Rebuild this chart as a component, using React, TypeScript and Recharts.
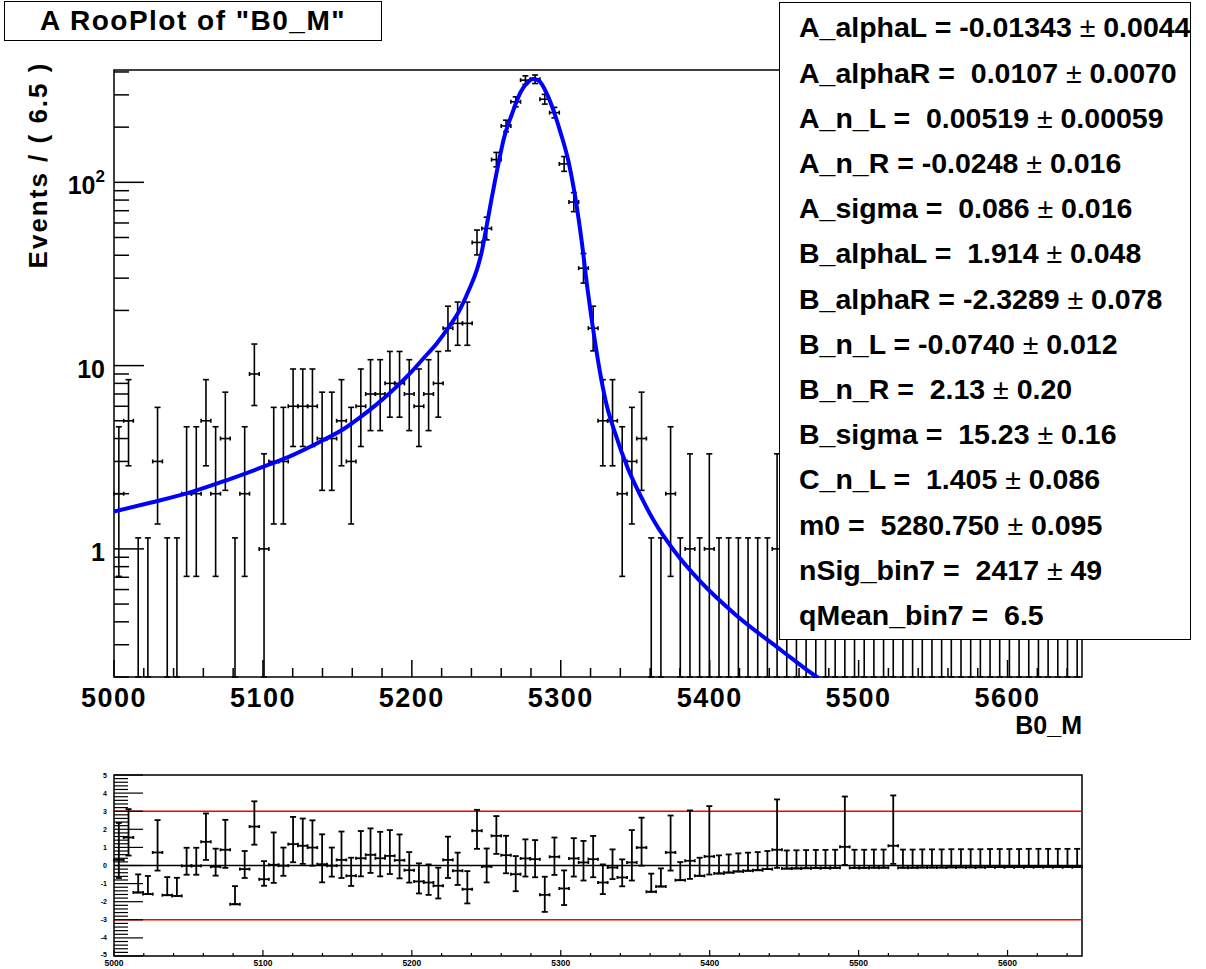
import React from "react";
import {
  ComposedChart,
  Scatter,
  Line,
  XAxis,
  YAxis,
  ErrorBar,
  ReferenceLine,
  ReferenceArea,
} from "recharts";

const FONT = '"Liberation Sans", Arial, Helvetica, sans-serif';

// B0_M binning: 100 bins of 6.5 from 5000
const binStart = 5000;
const binWidth = 6.5;

// events per bin
const counts = [
  2, 5, 0, 0, 3, 0, 0, 2, 2, 5,
  2, 4, 0, 2, 9, 1, 3, 3, 6, 6,
  6, 4, 4, 5, 3, 6, 7, 7, 8, 8,
  7, 6, 7, 8, 16, 17, 17, 47, 56, 133,
  203, 275, 361, 365, 284, 240, 126, 78, 34, 16,
  5, 5, 2, 3, 4, 0, 0, 2, 0, 1,
  0, 1, 0, 0, 0, 0, 0, 0, 1, 0,
  0, 0, 0, 0, 0, 1, 0, 0, 0, 0,
  1, 0, 0, 0, 0, 0, 0, 0, 0, 0,
  0, 0, 0, 0, 0, 0, 0, 0, 0, 0,
];

// pull per bin (lower pad)
const pulls = [
  0.31, 1.55, -1.49, -1.58, 0.72, -1.64, -1.68, -0.02, -0.02, 1.31,
  -0.07, 0.87, -2.14, -0.2, 2.15, -0.76, 0.04, -0.01, 1.18, 1.09,
  0.99, 0.07, -0.01, 0.31, -0.57, 0.4, 0.59, 0.4, 0.53, 0.29,
  -0.26, -0.88, -0.94, -1.12, 0.31, -0.29, -1.31, 1.92, -0.06, 1.64,
  0.57, -0.48, 0.39, 0.35, -1.62, 0.48, -1.27, 0.39, 0.17, 0.35,
  -0.94, -0.11, -0.66, 0.17, 0.99, -1.45, -1.16, 0.72, -0.81, 0.26,
  -0.57, 0.5, -0.44, -0.39, -0.33, -0.29, -0.26, -0.2, 0.87, -0.17,
  -0.16, -0.15, -0.14, -0.14, -0.13, 1.03, -0.13, -0.13, -0.12, -0.12,
  1.09, -0.12, -0.12, -0.11, -0.11, -0.11, -0.1, -0.1, -0.1, -0.1,
  -0.09, -0.09, -0.09, -0.09, -0.08, -0.08, -0.08, -0.08, -0.08, -0.08,
];

// fitted pdf
const fitMass = [
  5000, 5025, 5050, 5075, 5100, 5120, 5140, 5155, 5165, 5178,
  5190, 5200, 5208, 5217, 5225, 5232, 5238, 5244, 5247, 5249,
  5253, 5258, 5262, 5267, 5273, 5278, 5281, 5285, 5291, 5296,
  5300, 5305, 5309, 5314, 5318, 5323, 5327, 5331, 5336, 5345,
  5355, 5363, 5376, 5394, 5417, 5448, 5472, 5500,
];
const fitEvents = [
  1.6, 1.79, 2.02, 2.36, 2.8, 3.25, 3.9, 4.55, 5.2, 6.3,
  7.7, 9.3, 11.0, 13.3, 16.3, 20, 25.5, 34, 42, 51,
  77, 125, 176, 233, 310, 352, 366, 360, 300, 235,
  185, 132, 90, 48, 26, 13.5, 8.6, 6.0, 4.4, 2.75,
  1.85, 1.4, 0.98, 0.66, 0.44, 0.28, 0.2, 0.15,
];

const massLabels = [5000, 5100, 5200, 5300, 5400, 5500, 5600];
const countLabels = [1, 10, 100];

const paramNames = [
  "A_alphaL", "A_alphaR", "A_n_L", "A_n_R", "A_sigma", "B_alphaL", "B_alphaR",
  "B_n_L", "B_n_R", "B_sigma", "C_n_L", "m0", "nSig_bin7", "qMean_bin7",
];
const paramValues = [
  "-0.01343", " 0.0107", " 0.00519", "-0.0248", " 0.086", " 1.914", "-2.3289",
  "-0.0740", " 2.13", " 15.23", " 1.405", " 5280.750", " 2417", " 6.5",
];
const paramErrors = [
  "0.0044", "0.0070", "0.00059", "0.016", "0.016", "0.048", "0.078",
  "0.012", "0.20", "0.16", "0.086", "0.095", "49", "",
];

// 68% poisson intervals (low, high) for small counts
const poissonLo = [0, 0.827, 1.292, 1.633, 1.914, 2.16, 2.38, 2.581, 2.768, 2.943, 3.108];
const poissonHi = [1.148, 2.3, 2.638, 2.918, 3.163, 3.382, 3.583, 3.77, 3.944, 4.11, 4.266];
function poisson(n: number): [number, number] {
  if (n < poissonLo.length) return [poissonLo[n], poissonHi[n]];
  return [Math.sqrt(n - 0.25), 1 + Math.sqrt(n + 0.75)];
}

const yMin = 0.2;
const yMax = 410;

const histRows = counts.map((n, i) => {
  const [lo, hi] = poisson(n);
  const x = binStart + binWidth * (i + 0.5);
  // error bars stop at the frame bottom; empty bins only show the upper error
  if (n === 0) return { x, y: yMin, ey: [0, hi - yMin], ex: 0 };
  return { x, y: n, ey: [Math.min(lo, n - yMin), hi], ex: binWidth / 2 };
});

const pullRows = pulls.map((p, i) => {
  const [lo, hi] = poisson(counts[i]);
  const ey = p > 0 ? [1, hi / lo] : [lo / hi, 1];
  return { x: binStart + binWidth * (i + 0.5), y: p, ey, ex: binWidth / 2 };
});

const fitRows = fitMass.map((m, i) => ({ x: m, y: fitEvents[i] }));

const massTicks: number[] = [];
for (let m = 5000; m < 5650; m += 20) massTicks.push(m);
const countTicks: number[] = [];
[0.1, 1, 10, 100].forEach((d) => {
  for (let k = 1; k <= 9; k++) {
    const v = Number((d * k).toPrecision(2));
    if (v >= yMin && v <= yMax) countTicks.push(v);
  }
});
const pullTicks: number[] = [];
for (let k = -25; k <= 25; k++) pullTicks.push(k / 5);

const Empty = () => <g />;

const MainXTick = (props: any) => {
  const { x, y, payload } = props;
  const v = payload.value;
  const base = y - 10;
  const major = massLabels.includes(v);
  return (
    <g>
      <line x1={x} x2={x} y1={base} y2={base - (major ? 17 : 9)} stroke="#000" strokeWidth={1.5} />
      {major && (
        <text
          x={x}
          y={base + 30}
          textAnchor="middle"
          fontFamily={FONT}
          fontWeight="bold"
          fontSize={27}
          letterSpacing={1.5}
          fill="#000"
        >
          {v}
        </text>
      )}
    </g>
  );
};

const MainYTick = (props: any) => {
  const { x, y, payload } = props;
  const v = payload.value;
  const left = x + 10;
  const major = countLabels.includes(v);
  return (
    <g>
      <line x1={left} x2={left + (major ? 30 : 15)} y1={y} y2={y} stroke="#000" strokeWidth={1.5} />
      {major && (
        <text x={left - 9} y={y + 12} textAnchor="end" fontFamily={FONT} fontWeight="bold" fontSize={25} fill="#000">
          {v === 100 ? (
            <>
              <tspan>10</tspan>
              <tspan dy={-12} fontSize={17}>2</tspan>
            </>
          ) : (
            v
          )}
        </text>
      )}
    </g>
  );
};

const PullXTick = (props: any) => {
  const { x, y, payload } = props;
  const v = payload.value;
  const base = y - 3;
  const major = massLabels.includes(v);
  return (
    <g>
      <line x1={x} x2={x} y1={base} y2={base - (major ? 6 : 3)} stroke="#000" strokeWidth={1.2} />
      {major && (
        <text x={x} y={base + 10} textAnchor="middle" fontFamily={FONT} fontWeight="bold" fontSize={8.5} fill="#000">
          {v}
        </text>
      )}
    </g>
  );
};

const PullYTick = (props: any) => {
  const { x, y, payload } = props;
  const v = payload.value;
  const left = x + 6;
  const major = Number.isInteger(v);
  return (
    <g>
      <line x1={left} x2={left + (major ? 29 : 14)} y1={y} y2={y} stroke="#000" strokeWidth={1.2} />
      {major && (
        <text
          x={left - 7}
          y={v === -5 ? y + 1 : y + 2.5}
          textAnchor="end"
          fontFamily={FONT}
          fontWeight="bold"
          fontSize={7}
          fill="#000"
        >
          {v}
        </text>
      )}
    </g>
  );
};

export default function App() {
  return (
    <div
      style={{
        position: "absolute",
        left: 0,
        top: 0,
        width: 1206,
        height: 969,
        background: "#fff",
        fontFamily: FONT,
        fontWeight: "bold",
        color: "#000",
      }}
    >
      <div style={{ position: "absolute", left: 0, top: 0 }}>
        <ComposedChart width={1206} height={740} margin={{ top: 70, right: 124, bottom: 0, left: 0 }}>
          <XAxis
            type="number"
            dataKey="x"
            domain={[5000, 5650]}
            allowDataOverflow
            ticks={massTicks}
            interval={0}
            axisLine={false}
            tickLine={false}
            tickSize={0}
            tickMargin={10}
            height={63}
            tick={(p: any) => <MainXTick {...p} />}
          />
          <YAxis
            type="number"
            dataKey="y"
            scale="log"
            domain={[yMin, yMax]}
            allowDataOverflow
            ticks={countTicks}
            interval={0}
            axisLine={false}
            tickLine={false}
            tickSize={0}
            tickMargin={10}
            width={114}
            tick={(p: any) => <MainYTick {...p} />}
          />
          <ReferenceArea x1={5000} x2={5650} y1={yMin} y2={yMax} fill="none" stroke="#000" strokeWidth={1.5} />
          <Scatter data={histRows} dataKey="y" shape={Empty} isAnimationActive={false}>
            <ErrorBar dataKey="ey" direction="y" width={3} stroke="#000" strokeWidth={1.6} />
            <ErrorBar dataKey="ex" direction="x" width={2} stroke="#000" strokeWidth={1.6} />
          </Scatter>
          <Line
            data={fitRows}
            dataKey="y"
            type="monotone"
            stroke="#0000ff"
            strokeWidth={4}
            dot={false}
            isAnimationActive={false}
          />
        </ComposedChart>
      </div>

      <div style={{ position: "absolute", left: 0, top: 740 }}>
        <ComposedChart width={1206} height={229} margin={{ top: 35, right: 124, bottom: 0, left: 0 }}>
          <XAxis
            type="number"
            dataKey="x"
            domain={[5000, 5650]}
            allowDataOverflow
            ticks={massTicks}
            interval={0}
            axisLine={false}
            tickLine={false}
            tickSize={0}
            tickMargin={3}
            height={13}
            tick={(p: any) => <PullXTick {...p} />}
          />
          <YAxis
            type="number"
            dataKey="y"
            domain={[-5, 5]}
            allowDataOverflow
            ticks={pullTicks}
            interval={0}
            axisLine={false}
            tickLine={false}
            tickSize={0}
            tickMargin={6}
            width={114}
            tick={(p: any) => <PullYTick {...p} />}
          />
          <ReferenceArea x1={5000} x2={5650} y1={-5} y2={5} fill="none" stroke="#000" strokeWidth={1.5} />
          <ReferenceLine y={3} stroke="#ff0000" strokeWidth={1.5} />
          <ReferenceLine y={-3} stroke="#ff0000" strokeWidth={1.5} />
          <ReferenceLine y={0} stroke="#000" strokeWidth={1.5} />
          <Scatter data={pullRows} dataKey="y" shape={Empty} isAnimationActive={false}>
            <ErrorBar dataKey="ey" direction="y" width={3} stroke="#000" strokeWidth={1.8} />
            <ErrorBar dataKey="ex" direction="x" width={1.5} stroke="#000" strokeWidth={1.8} />
          </Scatter>
        </ComposedChart>
      </div>

      <div
        style={{
          position: "absolute",
          left: 38,
          top: 165,
          transform: "translate(-50%, -50%) rotate(-90deg)",
          whiteSpace: "nowrap",
          fontSize: 26,
          letterSpacing: 2,
        }}
      >
        Events / ( 6.5 )
      </div>
      <div
        style={{
          position: "absolute",
          right: 124,
          top: 710,
          lineHeight: "30px",
          fontSize: 25,
        }}
      >
        B0_M
      </div>

      <div
        style={{
          position: "absolute",
          left: 4,
          top: 1,
          width: 376,
          height: 38,
          border: "1.5px solid #000",
          background: "#fff",
          textAlign: "center",
          lineHeight: "38px",
          fontSize: 28,
          letterSpacing: 1.5,
          whiteSpace: "pre",
        }}
      >
        A RooPlot of "B0_M"
      </div>

      <div
        style={{
          position: "absolute",
          left: 779,
          top: 2,
          width: 410,
          height: 636,
          border: "1.5px solid #000",
          background: "#fff",
        }}
      >
        {paramNames.map((name, k) => (
          <div
            key={name}
            style={{
              position: "absolute",
              left: 19,
              top: 25 + 45.2 * k - 22.6,
              lineHeight: "45.2px",
              fontSize: 28.5,
              whiteSpace: "pre",
            }}
          >
            {`${name} = ${paramValues[k]}`}
            {paramErrors[k] && (
              <>
                {" "}
                <span style={{ fontWeight: "normal" }}>±</span>
                {` ${paramErrors[k]}`}
              </>
            )}
          </div>
        ))}
      </div>
    </div>
  );
}
